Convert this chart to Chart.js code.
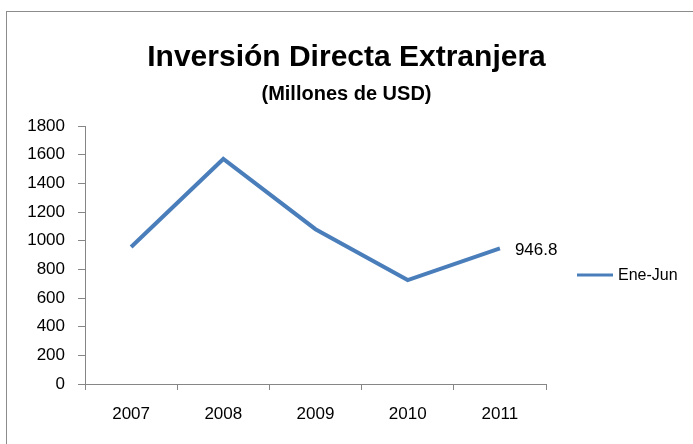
<!DOCTYPE html>
<html>
<head>
<meta charset="utf-8">
<script src="https://cdn.jsdelivr.net/npm/chart.js@4/dist/chart.umd.min.js"></script>
<style>
  html, body { margin: 0; padding: 0; background: #fff; overflow: hidden; }
  #frame { position: absolute; left: 6px; top: 11px; width: 800px; height: 600px;
           border-top: 1px solid #8c8c8c; border-left: 1px solid #8c8c8c; }
  #wrap { position: absolute; left: 0; top: 0; width: 693px; height: 444px; }
</style>
</head>
<body>
<div id="frame"></div>
<div id="wrap"><canvas id="chart" width="693" height="444"></canvas></div>
<script>
const years = ['2007', '2008', '2009', '2010', '2011'];
const ideValues = [956, 1570, 1080, 725, 946.8];
const seriesName = 'Ene-Jun';
const lastLabel = '946.8';

const lineColor = '#4a7ebb';
const axisColor = '#868686';
const font = "'Liberation Sans', Arial, sans-serif";

// data label on the last point + legend at the right
const extras = {
    id: 'extras',
    afterDatasetsDraw(chart) {
        const ctx = chart.ctx;
        const meta = chart.getDatasetMeta(0);
        const pt = meta.data[meta.data.length - 1];
        ctx.save();
        ctx.font = '17px ' + font;
        ctx.fillStyle = '#000';
        ctx.textBaseline = 'middle';
        ctx.textAlign = 'left';
        ctx.fillText(lastLabel, pt.x + 15, pt.y + 2);

        const ds = chart.data.datasets[0];
        ctx.strokeStyle = ds.borderColor;
        ctx.lineWidth = 3;
        ctx.beginPath();
        ctx.moveTo(577, 275);
        ctx.lineTo(613, 275);
        ctx.stroke();
        ctx.font = '16px ' + font;
        ctx.fillText(ds.label, 618, 276);
        ctx.restore();
    }
};

new Chart(document.getElementById('chart').getContext('2d'), {
    type: 'line',
    data: {
        labels: years,
        datasets: [{
            label: seriesName,
            data: ideValues,
            borderColor: lineColor,
            borderWidth: 4,
            pointRadius: 0,
            tension: 0,
            fill: false
        }]
    },
    options: {
        responsive: false,
        animation: false,
        layout: { padding: 0 },
        plugins: {
            legend: { display: false },
            tooltip: { enabled: false },
            title: {
                display: true,
                text: 'Inversión Directa Extranjera',
                color: '#000',
                font: { family: font, size: 30, weight: 'bold' },
                padding: { top: 40, bottom: 0 }
            },
            subtitle: {
                display: true,
                text: '(Millones de USD)',
                color: '#000',
                font: { family: font, size: 20, weight: 'bold' },
                padding: { top: 6, bottom: 20 }
            }
        },
        scales: {
            x: {
                offset: true,
                grid: { display: true, drawOnChartArea: false, offset: true, tickLength: 6, color: axisColor },
                border: { color: axisColor, width: 1 },
                ticks: { color: '#000', font: { family: font, size: 17 }, padding: 14, maxRotation: 0 },
                afterFit(scale) { scale.height = 60; }
            },
            y: {
                min: 0,
                max: 1800,
                grid: { display: true, drawOnChartArea: false, tickLength: 7, color: axisColor },
                border: { color: axisColor, width: 1 },
                ticks: {
                    stepSize: 200, color: '#000', font: { family: font, size: 17 }, padding: 13,
                    callback: (v) => String(v)
                },
                afterFit(scale) { scale.width = 85; }
            },
            // empty axis that keeps room for the legend on the right
            side: {
                position: 'right',
                display: true,
                grid: { display: false },
                border: { display: false },
                ticks: { display: false },
                afterFit(scale) { scale.width = 147; }
            }
        }
    },
    plugins: [extras]
});
</script>
</body>
</html>
